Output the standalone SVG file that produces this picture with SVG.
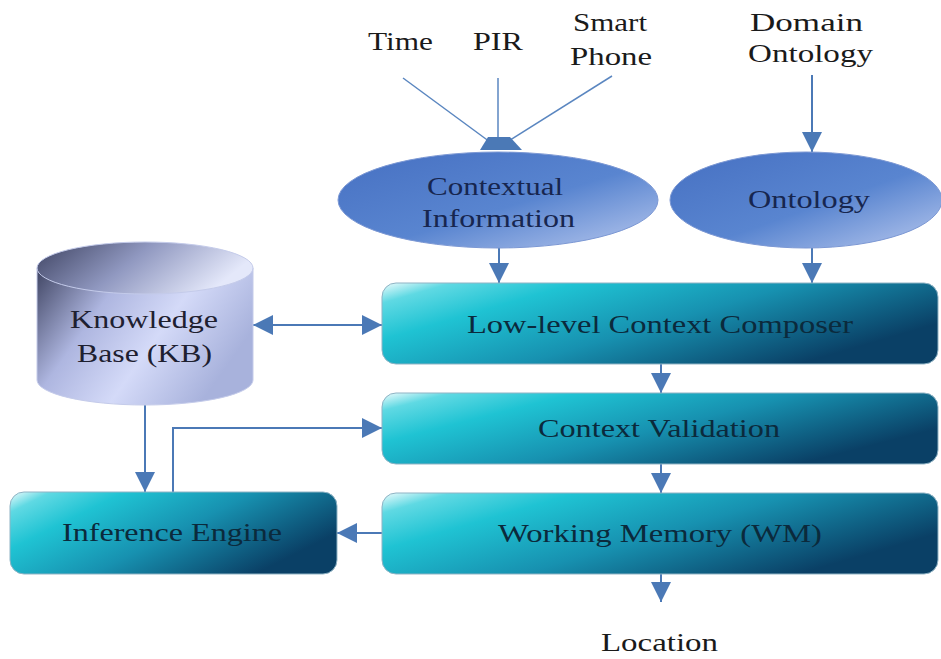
<svg xmlns="http://www.w3.org/2000/svg" width="941" height="659" viewBox="0 0 941 659">
<defs>
<style>
text{font-size:26px;text-anchor:middle}
.plain{fill:#1a1a1a}
.ell{fill:#17264f}
.box{fill:#0b2a3c}
.kb{fill:#1e2030}
.c{stroke:#4b79b6;stroke-width:2;fill:none}
.ct{stroke:#5a86c0;stroke-width:1.5;fill:none}
</style>
<linearGradient id="gBox" x1="0" y1="0" x2="1" y2="0.5">
<stop offset="0" stop-color="#effcfd"/>
<stop offset="0.1" stop-color="#5fd9e3"/>
<stop offset="0.28" stop-color="#1fc3d3"/>
<stop offset="0.6" stop-color="#1791b0"/>
<stop offset="1" stop-color="#0a4066"/>
</linearGradient>
<linearGradient id="gEll" x1="0" y1="0" x2="1" y2="1">
<stop offset="0" stop-color="#4670c2"/>
<stop offset="0.55" stop-color="#5985d0"/>
<stop offset="1" stop-color="#b8c8ee"/>
</linearGradient>
<linearGradient id="gCylBody" x1="0" y1="0" x2="1" y2="0.45">
<stop offset="0" stop-color="#3f4462"/>
<stop offset="0.35" stop-color="#aeb6e0"/>
<stop offset="0.65" stop-color="#d4daf8"/>
<stop offset="1" stop-color="#a8b2dc"/>
</linearGradient>
<linearGradient id="gCylTop" x1="0" y1="0" x2="1" y2="0.3">
<stop offset="0" stop-color="#3e4362"/>
<stop offset="0.5" stop-color="#9098c0"/>
<stop offset="1" stop-color="#e4e8fa"/>
</linearGradient>
<marker id="ah" viewBox="0 0 10 10" refX="10" refY="5" markerWidth="20" markerHeight="20" markerUnits="userSpaceOnUse" orient="auto-start-reverse">
<path d="M0,0 L10,5 L0,10 z" fill="#4b79b6"/>
</marker>
</defs>
<rect width="941" height="659" fill="#ffffff"/>

<g id="connectors">
<line class="ct" x1="403" y1="78" x2="490" y2="142"/>
<line class="ct" x1="498" y1="78" x2="498" y2="142"/>
<line class="ct" x1="612" y1="76" x2="507" y2="142"/>
<polygon points="488,137 510,137 522,150 480,150" fill="#4b79b6"/>
<line class="c" x1="812" y1="75" x2="812" y2="152" marker-end="url(#ah)"/>
<line class="c" x1="499" y1="248" x2="499" y2="283" marker-end="url(#ah)"/>
<line class="c" x1="812" y1="248" x2="812" y2="283" marker-end="url(#ah)"/>
<line class="c" x1="253" y1="325" x2="382" y2="325" marker-start="url(#ah)" marker-end="url(#ah)"/>
<line class="c" x1="661" y1="364" x2="661" y2="393" marker-end="url(#ah)"/>
<line class="c" x1="661" y1="464" x2="661" y2="493" marker-end="url(#ah)"/>
<line class="c" x1="661" y1="574" x2="661" y2="602" marker-end="url(#ah)"/>
<line class="c" x1="145" y1="405" x2="145" y2="492" marker-end="url(#ah)"/>
<path class="c" d="M173,492 V428 H382" marker-end="url(#ah)"/>
<line class="c" x1="382" y1="533" x2="337" y2="533" marker-end="url(#ah)"/>
</g>

<g font-family="Liberation Serif, Times New Roman, serif">
<g id="inputs">
<text class="plain" x="400.5" y="50" textLength="65" lengthAdjust="spacingAndGlyphs">Time</text>
<text class="plain" x="498" y="50" textLength="50" lengthAdjust="spacingAndGlyphs">PIR</text>
<text class="plain" x="610" y="31" textLength="74" lengthAdjust="spacingAndGlyphs">Smart</text>
<text class="plain" x="611" y="65" textLength="82" lengthAdjust="spacingAndGlyphs">Phone</text>
</g>

<g id="domain-ontology">
<text class="plain" x="806.5" y="31" textLength="113" lengthAdjust="spacingAndGlyphs">Domain</text>
<text class="plain" x="810.5" y="62" textLength="125" lengthAdjust="spacingAndGlyphs">Ontology</text>
</g>

<g id="contextual-information">
<ellipse cx="498" cy="200" rx="160" ry="48" fill="url(#gEll)" stroke="#7c98d4" stroke-width="1"/>
<text class="ell" x="495" y="195" textLength="136" lengthAdjust="spacingAndGlyphs">Contextual</text>
<text class="ell" x="498.5" y="227" textLength="153" lengthAdjust="spacingAndGlyphs">Information</text>
</g>

<g id="ontology">
<ellipse cx="806" cy="200" rx="136" ry="48" fill="url(#gEll)" stroke="#7c98d4" stroke-width="1"/>
<text class="ell" x="809" y="208" textLength="122" lengthAdjust="spacingAndGlyphs">Ontology</text>
</g>

<g id="knowledge-base">
<path d="M37,268 V380 A108,25 0 0 0 253,380 V268 Z" fill="url(#gCylBody)" stroke="#c4cbea" stroke-width="1"/>
<ellipse cx="145" cy="268" rx="108" ry="26" fill="url(#gCylTop)" stroke="#c4cbea" stroke-width="1"/>
<text class="kb" x="144" y="328" textLength="148" lengthAdjust="spacingAndGlyphs">Knowledge</text>
<text class="kb" x="144.5" y="362" textLength="135" lengthAdjust="spacingAndGlyphs">Base (KB)</text>
</g>

<g id="low-level-context-composer">
<rect x="382" y="283" width="556" height="81" rx="14" fill="url(#gBox)" stroke="#8fb3c4" stroke-width="1"/>
<text class="box" x="660" y="333" textLength="386" lengthAdjust="spacingAndGlyphs">Low-level Context Composer</text>
</g>

<g id="context-validation">
<rect x="382" y="393" width="556" height="71" rx="14" fill="url(#gBox)" stroke="#8fb3c4" stroke-width="1"/>
<text class="box" x="659" y="437" textLength="242" lengthAdjust="spacingAndGlyphs">Context Validation</text>
</g>

<g id="working-memory">
<rect x="382" y="493" width="556" height="81" rx="14" fill="url(#gBox)" stroke="#8fb3c4" stroke-width="1"/>
<text class="box" x="660" y="542" textLength="324" lengthAdjust="spacingAndGlyphs">Working Memory (WM)</text>
</g>

<g id="inference-engine">
<rect x="10" y="492" width="327" height="82" rx="14" fill="url(#gBox)" stroke="#8fb3c4" stroke-width="1"/>
<text class="box" x="172" y="541" textLength="220" lengthAdjust="spacingAndGlyphs">Inference Engine</text>
</g>

<g id="location">
<text class="plain" x="659.5" y="651" textLength="117" lengthAdjust="spacingAndGlyphs">Location</text>
</g>
</g>
</svg>
